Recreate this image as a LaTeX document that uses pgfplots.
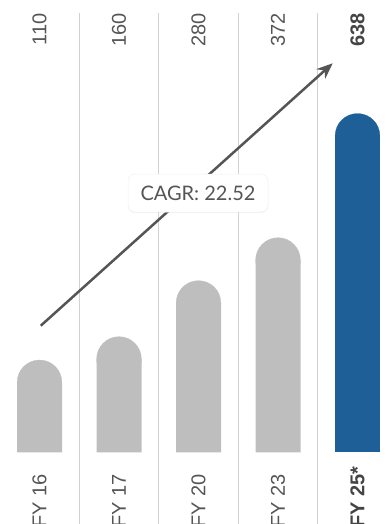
\documentclass[border=0pt]{standalone}
\usepackage{fontspec}
\setmainfont{Liberation Sans}
\newfontfamily\cagrfont{Lato}
\usepackage{pgfplots}
\pgfplotsset{compat=1.18}
\usepackage{pgfplotstable}
\usetikzlibrary{arrows.meta,shadows}
\definecolor{barGray}{HTML}{BEBEBE}
\definecolor{barBlue}{HTML}{1F5F98}
\definecolor{txt}{HTML}{555555}
\definecolor{txtb}{HTML}{444444}
\definecolor{sep}{HTML}{D2D2D2}
\pgfplotstableread{
x v
0 110
1 160
2 280
3 372
}\grayData
\pgfplotstableread{
x v
4 638
}\blueData
\begin{document}
\begin{tikzpicture}[x=1pt,y=1pt]
\useasboundingbox (0,0) rectangle (389,524);
\begin{axis}[
  at={(-0.25pt,71.7pt)}, anchor=south west,
  scale only axis, width=397.5pt, height=452.3pt,
  xmin=-0.5, xmax=4.5, ymin=0, ymax=969,
  axis line style={draw=none},
  ytick=\empty,
  xtick={0,...,4},
  xticklabels={FY 16,FY 17,FY 20,FY 23,\textcolor{txtb}{\bfseries FY 25*}},
  major tick length=0pt,
  xticklabel style={rotate=90, anchor=west, inner sep=0pt, font=\fontsize{20}{24}\selectfont, text=txt},
  xticklabel shift=75.7pt,
  clip=false,
  ybar, bar width=45pt,
]
% bar body ends one corner radius (22.5pt = 48.2 units) below the rounded top
\addplot[ybar, fill=barGray, draw=none, bar shift=0pt, mark=*, mark size=22.4pt, mark options={draw=barGray, fill=barGray, line width=0.2pt}] table[x=x, y expr=\thisrow{v}+39.8] {\grayData};
\addplot[ybar, fill=barBlue, draw=none, bar shift=0pt, mark=*, mark size=22.4pt, mark options={draw=barBlue, fill=barBlue, line width=0.2pt}] table[x=x, y expr=\thisrow{v}+39.8] {\blueData};
\pgfplotsinvokeforeach{0.5,1.5,2.5,3.5}{
  \draw[sep, line width=1pt] (axis cs:#1,941) -- (axis cs:#1,-160);
}
\draw[txt, line width=2.5pt, -{Stealth[length=16pt,width=13pt]}] (axis cs:0.0157,271.2) -- (axis cs:3.688,833.4);
\node[fill=white, draw=black!6, line width=0.5pt, rounded corners=7pt, minimum width=140pt, minimum height=38pt, inner sep=0pt,
  drop shadow={shadow xshift=0pt, shadow yshift=-1pt, opacity=0.10},
  font=\cagrfont\fontsize{20}{24}\selectfont, text=txt] at (axis cs:1.9937,555.5) {CAGR: 22.52};
\end{axis}
\begin{axis}[
  at={(-0.25pt,71.7pt)}, anchor=south west,
  scale only axis, width=397.5pt, height=452.3pt,
  xmin=-0.5, xmax=4.5, ymin=0, ymax=969,
  axis line style={draw=none},
  ytick=\empty,
  xtick={0,...,4},
  xticklabels={110,160,280,372,\textcolor{txtb}{\bfseries 638}},
  xticklabel pos=upper,
  major tick length=0pt,
  xticklabel style={rotate=90, anchor=east, inner sep=0pt, font=\fontsize{20}{24}\selectfont, text=txt},
  xticklabel shift=-13.3pt,
]
\end{axis}
\end{tikzpicture}
\end{document}
